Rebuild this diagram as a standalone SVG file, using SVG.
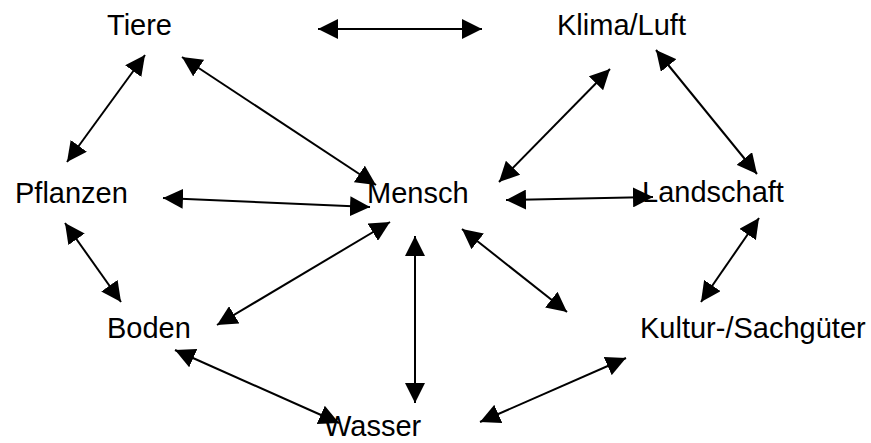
<svg xmlns="http://www.w3.org/2000/svg" width="871" height="443" viewBox="0 0 871 443">
<style>
text{font-family:"Liberation Sans",Arial,sans-serif;font-size:29px;fill:#000}
.c line{stroke:#000;stroke-width:2;marker-start:url(#ah);marker-end:url(#ah)}
</style>
<defs>
<marker id="ah" markerUnits="userSpaceOnUse" markerWidth="20" markerHeight="20" refX="20" refY="10" orient="auto-start-reverse" viewBox="0 0 20 20">
<path d="M0,0 L20,10 L0,20 Z" fill="#000"/>
</marker>
</defs>
<rect width="871" height="443" fill="#fff"/>
<g id="tiere"><text x="107" y="35">Tiere</text></g>
<g id="klima"><text x="557" y="35">Klima/Luft</text></g>
<g id="pflanzen"><text x="15" y="203">Pflanzen</text></g>
<g id="mensch"><text x="367" y="203">Mensch</text></g>
<g id="landschaft"><text x="642" y="202">Landschaft</text></g>
<g id="boden"><text x="107" y="338">Boden</text></g>
<g id="kultur"><text x="640" y="338">Kultur-/Sachgüter</text></g>
<g id="wasser"><text x="324" y="436">Wasser</text></g>
<g class="c" id="connectors">
<line x1="318" y1="29" x2="482" y2="29"/>
<line x1="145" y1="55" x2="67" y2="162"/>
<line x1="182" y1="57" x2="376" y2="185"/>
<line x1="163" y1="198" x2="370" y2="207"/>
<line x1="610" y1="69" x2="499" y2="182"/>
<line x1="506" y1="200" x2="653" y2="197"/>
<line x1="656" y1="50" x2="757" y2="174"/>
<line x1="65" y1="223" x2="121" y2="302"/>
<line x1="390" y1="222" x2="217" y2="325"/>
<line x1="415" y1="236" x2="415" y2="403"/>
<line x1="462" y1="229" x2="567" y2="312"/>
<line x1="759" y1="218" x2="701" y2="302"/>
<line x1="175" y1="350" x2="339" y2="423"/>
<line x1="626" y1="358" x2="480" y2="422"/>
</g>
</svg>
